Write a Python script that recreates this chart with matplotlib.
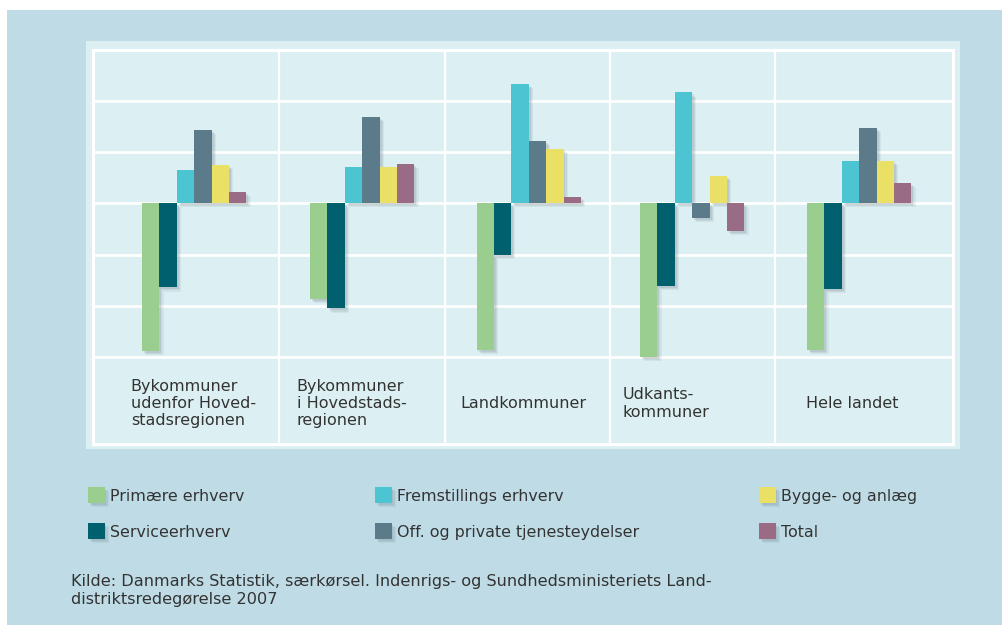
import matplotlib
matplotlib.use("Agg")
import matplotlib.pyplot as plt
import matplotlib.patheffects as pe
from matplotlib.patches import Rectangle

# ---- data (grid units; one gridline step = 1) ----
categories = ["Bykommuner\nudenfor Hoved-\nstadsregionen",
              "Bykommuner\ni Hovedstads-\nregionen",
              "Landkommuner",
              "Udkants-\nkommuner",
              "Hele landet"]
primaere = [-2.88, -1.87, -2.86, -3.00, -2.86]
service = [-1.64, -2.05, -1.01, -1.61, -1.67]
fremst = [0.65, 0.71, 2.33, 2.16, 0.83]
offpriv = [1.43, 1.68, 1.21, -0.28, 1.47]
bygge = [0.75, 0.70, 1.06, 0.54, 0.83]
total = [0.22, 0.77, 0.12, -0.54, 0.40]

series_names = ["Primære erhverv", "Serviceerhverv", "Fremstillings erhverv",
                "Off. og private tjenesteydelser", "Bygge- og anlæg", "Total"]
series_vals = [primaere, service, fremst, offpriv, bygge, total]
series_cols = ["#99ce8e", "#00606e", "#4cc4d1", "#5b7a8a", "#eae066", "#9a6b85"]

source = ("Kilde: Danmarks Statistik, særkørsel. Indenrigs- og Sundhedsministeriets Land-\n"
          "distriktsredegørelse 2007")

# ---- layout (pixel based) ----
W, H = 1002, 625
fig = plt.figure(figsize=(W / 100, H / 100), dpi=100)
fig.patch.set_facecolor("white")

def fx(px):
    return px / W

def fy(py):
    return 1 - py / H

OUTER = "#bfdce6"
PANEL = "#dcf0f3"
TXT = "#333333"

fig.add_artist(Rectangle((fx(7), 0), fx(W) - fx(7), fy(10), transform=fig.transFigure,
                         facecolor=OUTER, edgecolor="none", zorder=0))
fig.add_artist(Rectangle((fx(86), fy(449)), fx(960) - fx(86), fy(41) - fy(449),
                         transform=fig.transFigure, facecolor=PANEL, edgecolor="none", zorder=0))

left_px, right_px, top_px, bot_px = 92.5, 952.5, 49.5, 443.5
zero_px, unit_px = 203.3, 51.3
ax = fig.add_axes([fx(left_px), fy(bot_px), fx(right_px) - fx(left_px), fy(top_px) - fy(bot_px)])
ax.set_facecolor(PANEL)
ax.set_xlim(left_px, right_px)
ax.set_ylim(-(bot_px - zero_px) / unit_px, (zero_px - top_px) / unit_px)
ax.set_xticks([])
ax.set_yticks([])
for s in ax.spines.values():
    s.set_color("white")
    s.set_linewidth(2.2)

for yv in [-3, -2, -1, 0, 1, 2]:
    ax.axhline(yv, color="white", lw=2.0, zorder=1)
col_edges = [278.5, 444.5, 609.5, 774.5]
for xv in col_edges:
    ax.axvline(xv, color="white", lw=1.6, zorder=1)

group_start = [142, 310, 476.5, 640, 807]
bw = 17.4

shadow = [pe.SimplePatchShadow(offset=(o, -o), shadow_rgbFace="#6f7f85", alpha=a)
          for o, a in [(3.0, 0.10), (2.2, 0.12), (1.4, 0.15)]] + [pe.Normal()]

for si, (vals, col) in enumerate(zip(series_vals, series_cols)):
    xs = [g + si * bw for g in group_start]
    bars = ax.bar(xs, vals, width=bw, align="edge", color=col, edgecolor="none", zorder=2 + si)
    for b in bars:
        b.set_path_effects(shadow)

label_x = [130.7, 296.7, 460.7, 622.7, 806]
label_yc = 403.5
for cx, lab in zip(label_x, categories):
    ax.text(cx, -(label_yc - zero_px) / unit_px, lab, ha="left", va="center",
            fontsize=11.5, color=TXT, linespacing=1.2, zorder=10)

# ---- legend ----
leg_cols = [88, 375, 759]
leg_rows = [495, 531]
for si, (name, col) in enumerate(zip(series_names, series_cols)):
    r = si % 2
    c = si // 2
    px = leg_cols[c]
    py = leg_rows[r]
    rect = Rectangle((fx(px), fy(py + 8)), fx(16.5), fy(0) - fy(16), transform=fig.transFigure,
                     facecolor=col, edgecolor="none", zorder=3)
    rect.set_path_effects(shadow)
    fig.add_artist(rect)
    fig.text(fx(px + 22), fy(py + 1.5), name, ha="left", va="center", fontsize=11.4, color=TXT)

fig.text(fx(70.8), fy(590.5), source, ha="left", va="center", fontsize=11.6, color=TXT,
         linespacing=1.2)

fig.savefig("out.png", dpi=100, facecolor=fig.get_facecolor())
